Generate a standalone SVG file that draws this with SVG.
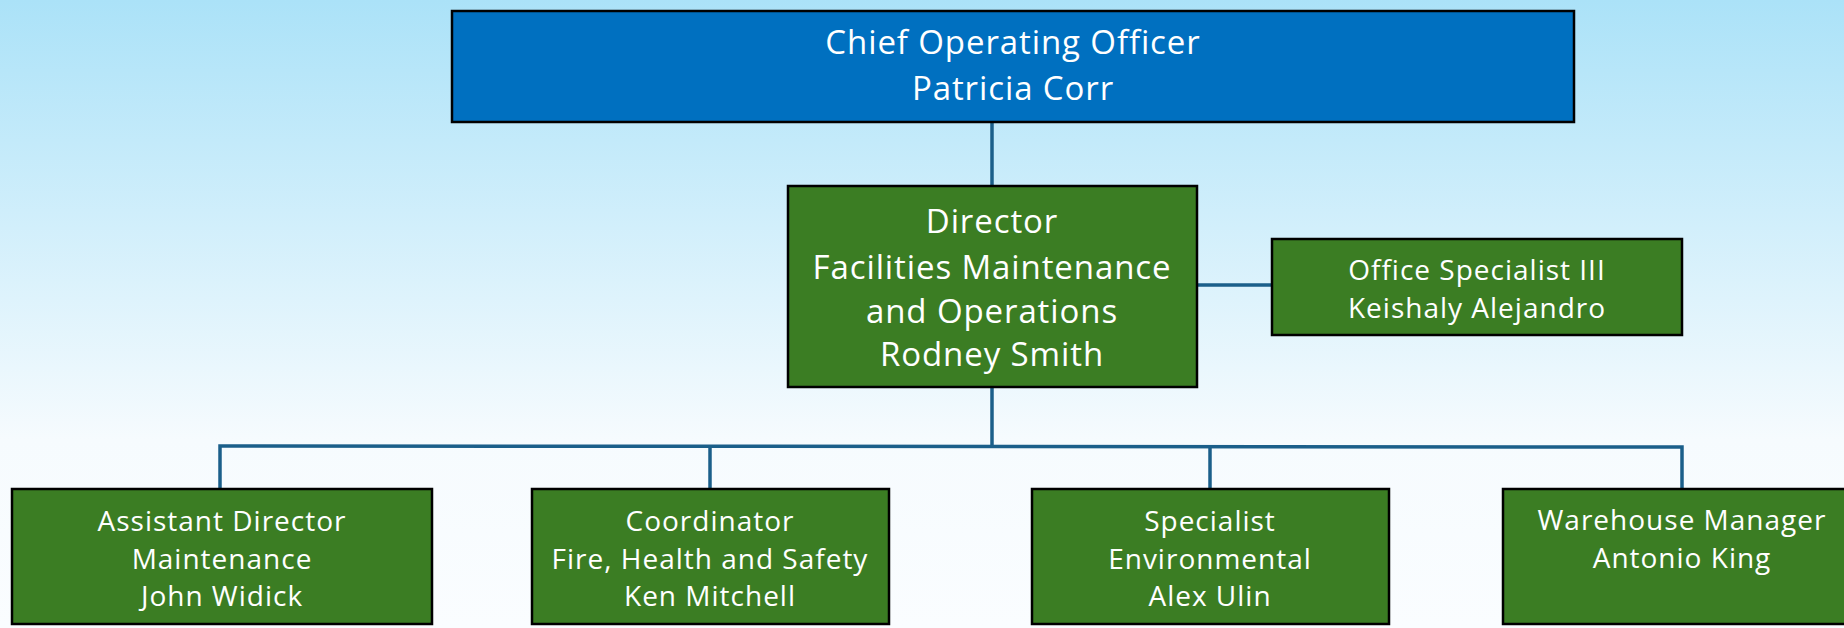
<svg xmlns="http://www.w3.org/2000/svg" width="1844" height="628" viewBox="0 0 1844 628">
<defs>
<linearGradient id="bg" x1="0" y1="0" x2="0" y2="1">
<stop offset="0" stop-color="#ABE2F8"/>
<stop offset="0.7" stop-color="#F6FBFE"/>
<stop offset="1" stop-color="#FAFDFF"/>
</linearGradient>
</defs>
<style>
.box{stroke:#000;stroke-width:2.5}
.blue{fill:#0070C0}
.green{fill:#3B7D23}
text{font-family:"Open Sans","Liberation Sans",sans-serif;fill:#fff;text-anchor:middle}
.big{font-size:33px;letter-spacing:0.9px}
.small{font-size:28px;letter-spacing:1px}
.conn{stroke:#1B5F8A;stroke-width:3.5;fill:none}
</style>
<rect width="1844" height="628" fill="url(#bg)"/>
<g id="connectors">
<line class="conn" x1="992" y1="122" x2="992" y2="186"/>
<line class="conn" x1="1197" y1="285" x2="1272" y2="285"/>
<line class="conn" x1="992" y1="387" x2="992" y2="447"/>
<polyline class="conn" points="220,489 220,446 1682,447 1682,489"/>
<line class="conn" x1="710" y1="446" x2="710" y2="489"/>
<line class="conn" x1="1210" y1="447" x2="1210" y2="489"/>
</g>
<g id="coo">
<rect class="box blue" x="452" y="11" width="1122" height="111"/>
<text class="big" x="1013" y="54">Chief Operating Officer</text>
<text class="big" x="1013" y="100">Patricia Corr</text>
</g>
<g id="director">
<rect class="box green" x="788" y="186" width="409" height="201"/>
<text class="big" x="992" y="233">Director</text>
<text class="big" x="992" y="279">Facilities Maintenance</text>
<text class="big" x="992" y="323">and Operations</text>
<text class="big" x="992" y="366">Rodney Smith</text>
</g>
<g id="office-specialist">
<rect class="box green" x="1272" y="239" width="410" height="96"/>
<text class="small" x="1477" y="280">Office Specialist III</text>
<text class="small" x="1477" y="318">Keishaly Alejandro</text>
</g>
<g id="assistant-director">
<rect class="box green" x="12" y="489" width="420" height="135"/>
<text class="small" x="222" y="531">Assistant Director</text>
<text class="small" x="222" y="569">Maintenance</text>
<text class="small" x="222" y="606">John Widick</text>
</g>
<g id="coordinator">
<rect class="box green" x="532" y="489" width="357" height="135"/>
<text class="small" x="710" y="531">Coordinator</text>
<text class="small" x="710" y="569">Fire, Health and Safety</text>
<text class="small" x="710" y="606">Ken Mitchell</text>
</g>
<g id="specialist">
<rect class="box green" x="1032" y="489" width="357" height="135"/>
<text class="small" x="1210" y="531">Specialist</text>
<text class="small" x="1210" y="569">Environmental</text>
<text class="small" x="1210" y="606">Alex Ulin</text>
</g>
<g id="warehouse">
<rect class="box green" x="1503" y="489" width="360" height="135"/>
<text class="small" x="1682" y="530">Warehouse Manager</text>
<text class="small" x="1682" y="568">Antonio King</text>
</g>
</svg>
